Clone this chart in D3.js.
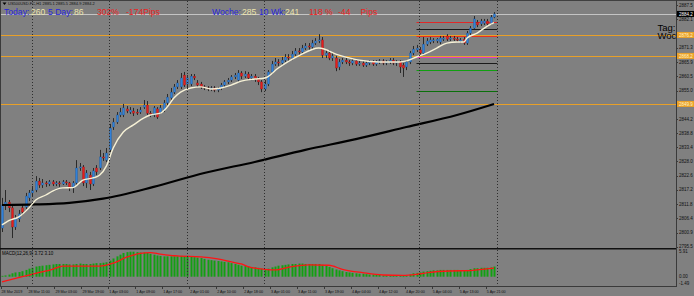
<!DOCTYPE html>
<html>
<head>
<meta charset="utf-8">
<script src="https://cdn.jsdelivr.net/npm/d3@7/dist/d3.min.js"></script>
<style>
  html, body { margin: 0; padding: 0; background: #808080; }
  svg { display: block; }
</style>
</head>
<body>
<script>

// H1 candles, one row per bar: [open, high, low, close]
const candles = [
  [2802.6,2814.1,2801.1,2811.4],[2811.4,2817.1,2809.5,2812.5],[2812.5,2813.3,2808.7,2810.3],[2810.3,2811.0,2798.8,2803.0],
  [2803.0,2807.6,2801.9,2806.1],[2806.1,2809.5,2804.9,2808.0],[2810.3,2811.4,2807.6,2808.7],[2810.6,2816.0,2809.9,2814.8],
  [2814.1,2817.1,2812.9,2816.0],[2816.0,2818.6,2814.8,2817.1],[2817.1,2822.4,2816.3,2820.5],[2820.5,2821.7,2817.9,2819.0],
  [2819.0,2821.3,2817.9,2819.8],[2819.8,2820.5,2818.3,2819.4],[2819.4,2820.9,2818.6,2820.2],[2820.2,2820.9,2818.6,2819.4],
  [2819.4,2820.5,2818.6,2819.8],[2819.8,2820.5,2818.3,2819.4],[2819.4,2820.9,2819.0,2820.2],[2820.2,2820.9,2819.0,2819.8],
  [2819.8,2820.2,2816.7,2817.9],[2817.9,2820.5,2816.0,2819.8],[2819.8,2828.5,2819.0,2825.5],[2825.5,2827.4,2824.4,2825.9],
  [2825.9,2826.6,2818.6,2819.8],[2819.8,2824.7,2817.9,2823.6],[2822.8,2824.0,2817.1,2819.4],[2819.4,2825.5,2818.6,2824.4],
  [2825.5,2826.6,2822.8,2824.0],[2825.5,2832.4,2824.7,2829.7],[2829.7,2831.2,2828.2,2829.3],[2828.5,2833.1,2827.8,2831.2],
  [2832.4,2842.3,2831.6,2840.7],[2841.1,2844.5,2840.0,2843.0],[2843.0,2846.8,2842.3,2845.7],[2845.7,2848.4,2844.9,2846.8],
  [2845.7,2849.9,2844.9,2848.4],[2848.0,2849.1,2846.4,2847.2],[2846.8,2848.7,2846.1,2847.6],[2847.2,2848.4,2845.3,2846.4],
  [2846.8,2848.0,2845.7,2846.4],[2846.8,2848.7,2846.1,2847.6],[2848.7,2851.4,2848.0,2849.5],[2849.5,2851.0,2845.7,2846.4],
  [2846.4,2847.2,2844.9,2846.1],[2845.7,2849.1,2844.9,2848.4],[2848.0,2848.7,2844.2,2844.9],[2846.8,2849.5,2846.1,2848.4],
  [2847.6,2851.4,2846.8,2850.3],[2850.3,2853.7,2849.5,2852.5],[2852.2,2856.0,2851.4,2854.4],[2854.4,2857.5,2853.7,2856.4],
  [2856.4,2859.0,2855.6,2857.9],[2856.4,2861.7,2855.6,2859.8],[2860.9,2862.1,2856.4,2857.1],[2857.5,2860.9,2856.0,2859.8],
  [2857.5,2861.3,2856.7,2860.5],[2860.5,2861.3,2859.0,2859.8],[2857.9,2859.0,2856.4,2857.1],[2857.5,2858.3,2855.6,2856.4],
  [2856.4,2857.1,2855.2,2856.0],[2856.0,2856.7,2854.8,2855.6],[2855.6,2856.7,2854.8,2856.0],[2856.0,2856.7,2854.4,2855.2],
  [2855.2,2856.4,2854.4,2855.6],[2856.0,2857.9,2855.2,2857.1],[2857.1,2859.0,2856.4,2858.3],[2858.3,2859.8,2857.5,2859.0],
  [2859.0,2860.9,2858.3,2860.2],[2860.2,2861.7,2859.4,2860.9],[2859.0,2862.8,2858.3,2861.7],[2861.7,2862.4,2859.4,2860.5],
  [2860.5,2862.4,2859.8,2861.3],[2861.3,2862.1,2859.0,2859.8],[2859.8,2861.3,2859.0,2860.5],[2860.5,2861.3,2858.3,2859.4],
  [2859.4,2860.2,2857.1,2858.3],[2858.3,2859.0,2854.4,2855.6],[2855.6,2859.0,2854.8,2857.5],[2857.5,2862.8,2856.7,2862.1],
  [2862.1,2866.3,2861.3,2865.1],[2865.1,2867.4,2864.4,2865.9],[2865.9,2867.0,2864.4,2865.5],[2865.5,2867.8,2864.7,2866.6],
  [2866.6,2868.9,2865.9,2867.8],[2867.8,2868.9,2866.3,2867.4],[2867.4,2870.1,2866.6,2868.9],[2868.9,2871.2,2868.2,2870.1],
  [2870.1,2871.2,2868.5,2869.7],[2869.7,2872.4,2868.9,2871.2],[2871.2,2873.1,2870.5,2872.0],[2872.0,2873.1,2870.5,2871.6],
  [2871.6,2874.3,2870.8,2873.1],[2873.1,2875.0,2872.4,2873.9],[2873.9,2876.5,2873.1,2874.3],[2874.3,2875.4,2867.4,2868.5],
  [2868.5,2870.5,2867.4,2869.3],[2869.3,2870.5,2866.6,2867.4],[2867.4,2869.3,2866.3,2868.2],[2867.4,2868.2,2862.4,2863.6],
  [2864.0,2867.0,2862.8,2865.9],[2865.9,2867.4,2865.1,2866.6],[2866.6,2867.4,2865.1,2865.9],[2865.9,2866.6,2864.4,2865.5],
  [2865.5,2867.0,2864.7,2866.3],[2866.3,2867.0,2864.4,2865.1],[2865.1,2866.3,2864.4,2865.5],[2865.5,2866.3,2864.0,2864.7],
  [2864.7,2866.3,2864.0,2865.5],[2865.5,2866.6,2864.7,2865.9],[2865.9,2866.6,2864.4,2865.1],[2865.1,2866.6,2864.4,2865.9],
  [2865.9,2867.0,2865.1,2866.3],[2866.3,2867.0,2864.7,2865.5],[2865.5,2866.6,2864.7,2865.9],[2865.9,2867.4,2865.1,2866.6],
  [2866.6,2867.4,2864.7,2865.5],[2865.5,2866.6,2864.4,2865.9],[2865.9,2866.6,2861.7,2864.0],[2864.7,2865.5,2860.2,2863.6],
  [2864.0,2866.6,2862.8,2865.9],[2865.9,2870.1,2865.1,2869.3],[2869.3,2872.0,2868.5,2870.8],[2870.5,2872.4,2869.7,2871.2],
  [2870.5,2871.6,2868.5,2869.3],[2869.3,2875.4,2868.5,2872.7],[2872.7,2875.0,2872.0,2873.9],[2873.5,2875.4,2872.7,2874.3],
  [2873.9,2875.0,2873.1,2874.3],[2873.9,2875.0,2873.1,2874.6],[2873.5,2875.8,2872.7,2875.0],[2874.6,2875.8,2873.9,2875.0],
  [2875.8,2876.5,2873.9,2874.6],[2874.6,2875.8,2873.9,2875.0],[2875.0,2875.8,2873.9,2874.6],[2874.6,2875.4,2873.5,2874.3],
  [2873.9,2875.0,2873.1,2874.3],[2874.6,2875.4,2872.4,2873.1],[2873.1,2877.7,2872.4,2876.9],[2876.9,2879.6,2876.2,2878.8],
  [2878.8,2883.4,2878.5,2882.3],[2881.1,2881.9,2879.2,2880.0],[2880.4,2882.3,2879.6,2881.5],[2880.7,2882.3,2880.0,2881.5],
  [2881.5,2882.3,2879.6,2880.4],[2880.7,2883.8,2880.0,2883.0],[2883.0,2884.9,2882.6,2884.2]
];

const fastMa = [
  [0,2803.8],[2,2805.4],[5,2806.9],[8,2810.3],[10,2813.3],[13,2815.2],[15,2816.7],[18,2817.9],[21,2818.0],
  [24,2820.9],[27,2821.7],[29,2822.8],[31,2826.3],[33,2833.1],[36,2839.2],[39,2841.9],[42,2844.5],[44,2845.7],
  [47,2846.4],[49,2848.7],[51,2852.2],[53,2854.4],[56,2856.0],[59,2856.4],[62,2855.6],[65,2856.0],[68,2857.1],
  [71,2858.6],[75,2859.4],[78,2859.8],[82,2863.6],[88,2868.2],[94,2871.2],[100,2868.5],[106,2866.6],[112,2865.9],
  [118,2865.9],[120,2866.3],[123,2867.8],[126,2869.3],[129,2871.2],[132,2873.1],[135,2873.5],[137,2873.5],
  [138,2875.0],[141,2876.9],[144,2879.6],[146,2880.9]
];

// Slow moving average (thick black line), [bar, price]
const slowMa = [
  [0,2811.4],[10,2811.6],[20,2812.2],[30,2813.8],[45,2818.3],[60,2823.6],[75,2827.8],
  [90,2832.4],[105,2836.5],[120,2841.1],[135,2845.7],[146,2849.9]
];

// MACD(12,26,9) main values per bar (histogram)
const macdMain = [
  0.2,0.3,0.5,0.8,1.0,1.1,1.3,1.6,1.9,2.1,2.4,2.5,2.6,2.7,2.8,
  2.9,3.0,3.0,3.0,3.0,2.9,2.9,3.0,3.1,3.0,3.0,3.0,3.1,3.2,3.2,3.3,3.4,
  3.8,4.3,4.8,5.2,5.6,5.8,5.9,5.9,5.8,5.7,5.7,5.6,5.4,5.2,5.0,
  4.9,4.8,4.8,4.8,4.8,4.8,4.9,4.8,4.7,4.7,4.6,4.5,4.4,4.2,4.0,
  3.9,3.8,3.7,3.6,3.5,3.4,3.2,3.0,2.8,2.6,2.5,2.4,2.3,2.2,2.1,
  1.9,1.8,1.9,2.2,2.4,2.6,2.7,2.8,2.9,3.0,3.0,3.1,3.1,3.0,3.0,
  3.0,3.0,3.0,2.8,2.6,2.3,2.0,1.7,1.5,1.3,1.1,1.0,0.9,0.8,0.7,
  0.7,0.6,0.5,0.5,0.4,0.4,0.3,0.3,0.2,0.2,0.2,0.2,0.1,0.2,0.5,
  0.8,0.9,1.0,1.2,1.3,1.4,1.5,1.5,1.6,1.6,1.6,1.6,1.6,1.6,1.5,
  1.4,1.6,1.8,2.0,2.0,2.1,2.1,2.1,2.2,2.4
];

// MACD signal line, [bar, value]
const macdSignal = [
  [0,-1.2],[6,0.0],[10,0.8],[15,1.75],[18,2.5],[24,2.5],[29,2.5],[33,3.2],[37,4.6],[41,5.5],[44,5.7],
  [47,5.35],[52,4.9],[59,4.7],[64,4.2],[69,3.3],[71,3.0],[73,2.4],[78,1.75],[81,1.6],[86,2.4],[91,2.8],
  [97,2.7],[101,1.75],[107,0.95],[113,0.4],[119,0.33],[123,0.57],[127,1.04],[133,1.35],[139,1.45],
  [141,1.6],[146,2.0]
];

// Price axis labels
const priceTicks = [2887.5, 2882.1, 2876.7, 2871.3, 2865.9, 2860.5, 2855.0, 2849.6, 2844.2,
                    2838.8, 2833.4, 2828.0, 2822.6, 2817.2, 2811.8, 2806.4, 2800.9, 2795.5];
const macdTicks = [5.91, 0, -1.49];
const macdTickLabels = ["5.91", "0.00", "-1.49"];

// Time axis labels, one every 8 bars
const timeLabels = ["28 Mar 2019", "28 Mar 11:00", "29 Mar 03:00", "29 Mar 19:00", "1 Apr 03:00",
                    "1 Apr 09:00", "1 Apr 17:00", "2 Apr 01:00", "2 Apr 10:00", "2 Apr 18:00",
                    "3 Apr 01:00", "3 Apr 11:00", "3 Apr 19:00", "4 Apr 04:00", "4 Apr 12:00",
                    "4 Apr 20:00", "5 Apr 04:00", "5 Apr 13:00", "5 Apr 21:00"];
const timeLabelStep = 8;

// Day separators (bar index)
const separatorBars = [9, 32, 55, 78, 124, 147];

// Price levels
const bidPrice = 2884.2;
const orangeLevels = [2876.2, 2868.2, 2849.9];
const shortLevels = [2881.1, 2878.5, 2875.8, 2867.8, 2865.5, 2862.8, 2854.8];
const shortLevelBars = [123, 147];

// Header texts
const symbolLine = "US500USD.FC,H1  2885.1 2885.5 2884.9 2884.2";
const headerLeft = ["Today:", "260", "5 Day:", "86", "302%", "-174Pips"];
const headerRight = ["Woche:", "285", "10 Wk:", "241", "118 %", "-44", "Pips"];
const macdTitle = "MACD(12,26,9) 3.72 3.10";
const sideTexts = ["Tag:", "Woche:"];


// ---------------------------------------------------------------------

const width = 694;
const height = 296;
const plotRight = 676;
const mainBottom = 248;
const subTop = 250;
const subBottom = 286;
const bg = "#808080";
const font = "'Liberation Sans', Arial, sans-serif";

const svg = d3.select("body").append("svg")
    .attr("width", width)
    .attr("height", height)
    .attr("viewBox", [0, 0, width, height])
    .style("font-family", font);

svg.append("rect").attr("width", width).attr("height", height).attr("fill", bg);

// Clip paths for main window and MACD window
const defs = svg.append("defs");
defs.append("clipPath").attr("id", "clipMain").append("rect")
    .attr("x", 0).attr("y", 0).attr("width", plotRight).attr("height", mainBottom);
defs.append("clipPath").attr("id", "clipSub").append("rect")
    .attr("x", 0).attr("y", subTop).attr("width", plotRight).attr("height", subBottom - subTop);

// Scales
const xScale = d3.scaleLinear().domain([0, 200]).range([2, plotRight]);
const yScale = d3.scaleLinear().domain([2795.5, 2887.5]).range([246.7, 5.3]);
const yMacd = d3.scaleLinear().domain([0, 5.9]).range([276.7, 251.7]);
const px = v => Math.round(v) + 0.5;

const main = svg.append("g").attr("clip-path", "url(#clipMain)");
const sub = svg.append("g").attr("clip-path", "url(#clipSub)");

// Day separators, dotted, through both windows
svg.append("g").selectAll("line")
    .data(separatorBars)
    .join("line")
    .attr("x1", d => px(xScale(d) - 0.5))
    .attr("x2", d => px(xScale(d) - 0.5))
    .attr("y1", 1)
    .attr("y2", subBottom)
    .attr("stroke", "#2e2e2e")
    .attr("stroke-width", 1)
    .attr("stroke-dasharray", "1,2");

// Bid line and full-width orange levels
main.append("line")
    .attr("x1", 0).attr("x2", plotRight)
    .attr("y1", px(yScale(bidPrice))).attr("y2", px(yScale(bidPrice)))
    .attr("stroke", "#c4c4c4");

main.append("g").selectAll("line")
    .data(orangeLevels)
    .join("line")
    .attr("x1", 0).attr("x2", plotRight)
    .attr("y1", d => px(yScale(d))).attr("y2", d => px(yScale(d)))
    .attr("stroke", "#e8a028");

// Short levels drawn over the last day
const shortColors = ["#e02828", "#1a1a1a", "#e83020", "#e040c0", "#1a1a1a", "#10a010", "#0a700a"];
main.append("g").selectAll("line")
    .data(shortLevels)
    .join("line")
    .attr("x1", xScale(shortLevelBars[0]))
    .attr("x2", xScale(shortLevelBars[1]))
    .attr("y1", d => px(yScale(d))).attr("y2", d => px(yScale(d)))
    .attr("stroke", (d, i) => shortColors[i]);

// Candles
const candleG = main.append("g");
candleG.selectAll("line")
    .data(candles)
    .join("line")
    .attr("x1", (d, i) => px(xScale(i)))
    .attr("x2", (d, i) => px(xScale(i)))
    .attr("y1", d => yScale(d[1]))
    .attr("y2", d => yScale(d[2]))
    .attr("stroke", "#2a2a2a")
    .attr("stroke-width", 1);

candleG.selectAll("rect")
    .data(candles)
    .join("rect")
    .attr("x", (d, i) => Math.round(xScale(i)) - 0.5)
    .attr("width", 2)
    .attr("y", d => yScale(Math.max(d[0], d[3])))
    .attr("height", d => Math.max(1, Math.abs(yScale(d[0]) - yScale(d[3]))))
    .attr("fill", d => d[3] >= d[0] ? "#2f80da" : "#e61c1c")
    .attr("stroke", d => d[3] >= d[0] ? "#1c4f8c" : "#8c1010")
    .attr("stroke-width", 0.3);

// Moving averages
const maLine = d3.line()
    .x(d => xScale(d[0]))
    .y(d => yScale(d[1]))
    .curve(d3.curveMonotoneX);

main.append("path")
    .attr("d", maLine(slowMa))
    .attr("fill", "none")
    .attr("stroke", "#000")
    .attr("stroke-width", 2.2);

main.append("path")
    .attr("d", maLine(fastMa))
    .attr("fill", "none")
    .attr("stroke", "#f6f1d6")
    .attr("stroke-width", 1.4);

// Side labels, clipped by the price axis
main.selectAll("text.side")
    .data(sideTexts)
    .join("text")
    .attr("x", 657.5)
    .attr("y", (d, i) => 30.5 + i * 8.5)
    .attr("font-size", 9.5)
    .attr("fill", "#000")
    .text(d => d);

// MACD histogram and signal
sub.selectAll("rect")
    .data(macdMain)
    .join("rect")
    .attr("x", (d, i) => Math.round(xScale(i)) - 0.5)
    .attr("width", 2)
    .attr("y", d => Math.min(yMacd(d), yMacd(0)))
    .attr("height", d => Math.max(0.8, Math.abs(yMacd(d) - yMacd(0))))
    .attr("fill", "#12a012");

const signalLine = d3.line()
    .x(d => xScale(d[0]))
    .y(d => yMacd(d[1]))
    .curve(d3.curveMonotoneX);

sub.append("path")
    .attr("d", signalLine(macdSignal))
    .attr("fill", "none")
    .attr("stroke", "#ff1414")
    .attr("stroke-width", 1.3);

svg.append("text")
    .attr("x", 2).attr("y", 255)
    .attr("font-size", 4.5)
    .attr("fill", "#000")
    .text(macdTitle);

// Frame lines
svg.append("line").attr("x1", 0).attr("x2", width).attr("y1", 0.5).attr("y2", 0.5).attr("stroke", "#404040");
svg.append("line").attr("x1", 0.5).attr("x2", 0.5).attr("y1", 0).attr("y2", subBottom).attr("stroke", "#3a3a3a");
svg.append("line").attr("x1", 0).attr("x2", plotRight).attr("y1", 248.8).attr("y2", 248.8)
    .attr("stroke", "#111").attr("stroke-width", 1.6);
svg.append("line").attr("x1", 0).attr("x2", plotRight + 0.5).attr("y1", subBottom + 0.5).attr("y2", subBottom + 0.5)
    .attr("stroke", "#3a3a3a");
svg.append("line").attr("x1", plotRight + 0.5).attr("x2", plotRight + 0.5).attr("y1", 0).attr("y2", subBottom + 1)
    .attr("stroke", "#3a3a3a");

// Price axis; labels hidden behind a highlighted box are left out
const boxed = [bidPrice].concat(orangeLevels);
const visibleTicks = priceTicks.filter(t => boxed.every(b => Math.abs(yScale(t) - yScale(b)) > 5));
const priceAxis = svg.append("g").attr("font-size", 4.5).attr("fill", "#111");
priceAxis.selectAll("line")
    .data(priceTicks)
    .join("line")
    .attr("x1", plotRight).attr("x2", plotRight + 2)
    .attr("y1", d => px(yScale(d))).attr("y2", d => px(yScale(d)))
    .attr("stroke", "#3a3a3a");
priceAxis.selectAll("text")
    .data(visibleTicks)
    .join("text")
    .attr("x", 679)
    .attr("y", d => yScale(d) + 1.6)
    .text(d => d.toFixed(1));

// Highlighted price boxes
function priceBox(value, fill, color) {
    const y = yScale(value);
    svg.append("rect")
        .attr("x", plotRight + 1).attr("y", y - 3)
        .attr("width", width - plotRight - 1).attr("height", 6)
        .attr("fill", fill);
    svg.append("text")
        .attr("x", 679).attr("y", y + 1.6)
        .attr("font-size", 4.5)
        .attr("fill", color)
        .text(value.toFixed(1));
}
priceBox(bidPrice, "#000", "#fff");
orangeLevels.forEach(v => priceBox(v, "#eba22a", "#fff3c8"));

// MACD axis
const macdAxis = svg.append("g").attr("font-size", 4.5).attr("fill", "#111");
macdAxis.selectAll("text")
    .data(macdTicks)
    .join("text")
    .attr("x", 679)
    .attr("y", d => yMacd(d) + 1.6)
    .text((d, i) => macdTickLabels[i]);

// Time axis
const timeAxis = svg.append("g").attr("font-size", 3.7).attr("fill", "#111");
timeAxis.selectAll("line")
    .data(timeLabels)
    .join("line")
    .attr("x1", (d, i) => px(xScale(i * timeLabelStep) - 1.5))
    .attr("x2", (d, i) => px(xScale(i * timeLabelStep) - 1.5))
    .attr("y1", subBottom).attr("y2", subBottom + 3)
    .attr("stroke", "#3a3a3a");
timeAxis.selectAll("text")
    .data(timeLabels)
    .join("text")
    .attr("x", (d, i) => xScale(i * timeLabelStep) - 0.5)
    .attr("y", 292.8)
    .text(d => d);

// Symbol line in the corner
svg.append("path")
    .attr("d", "M2.5,2.5 L6.5,2.5 L4.5,5 Z")
    .attr("fill", "#000");
svg.append("text")
    .attr("x", 8).attr("y", 5.4)
    .attr("font-size", 4)
    .attr("fill", "#111")
    .text(symbolLine);

// Header statistics
const blue = "#2626dc", cream = "#ece4ac", red = "#ec2020";
const leftX = [4, 31, 48, 74, 97, 126];
const leftColors = [blue, cream, blue, cream, red, red];
const rightX = [212, 242, 259, 285, 309, 338, 360.5];
const rightColors = [blue, cream, blue, cream, red, red, red];

const header = svg.append("g").attr("font-size", 8.6);
header.selectAll("text.l")
    .data(headerLeft)
    .join("text")
    .attr("class", "l")
    .attr("x", (d, i) => leftX[i])
    .attr("y", 14.7)
    .attr("fill", (d, i) => leftColors[i])
    .text(d => d);
header.selectAll("text.r")
    .data(headerRight)
    .join("text")
    .attr("class", "r")
    .attr("x", (d, i) => rightX[i])
    .attr("y", 14.7)
    .attr("fill", (d, i) => rightColors[i])
    .text(d => d);

</script>
</body>
</html>
